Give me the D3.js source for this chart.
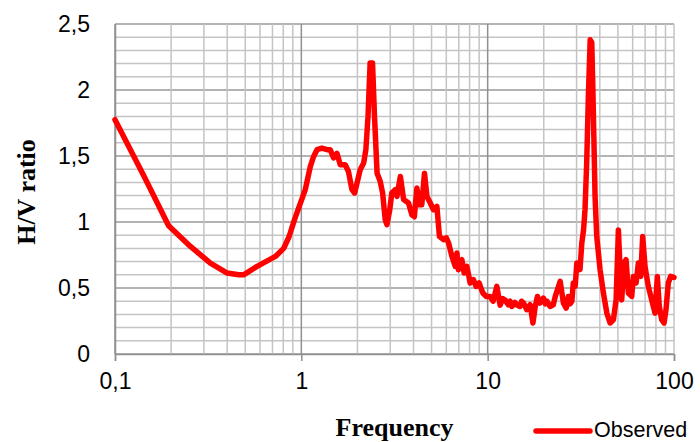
<!DOCTYPE html>
<html><head><meta charset="utf-8">
<script src="https://cdn.jsdelivr.net/npm/d3@7"></script>
<style>html,body{margin:0;padding:0;background:#fff;}svg{display:block;}</style>
</head><body>
<svg id="chart" width="700" height="442"></svg>
<script>
const xTicks = [0.1, 1, 10, 100];
const xTickLabels = ["0,1", "1", "10", "100"];
const yTicks = [0, 0.5, 1, 1.5, 2, 2.5];
const yTickLabels = ["0", "0,5", "1", "1,5", "2", "2,5"];
const seriesName = "Observed";
const freq = [0.1,0.1427,0.194,0.254,0.325,0.400,0.461,0.49,0.579,0.726,0.804,0.86,0.92,1.05,1.117,1.164,1.214,1.29,1.373,1.43,1.49,1.553,1.618,1.72,1.79,1.87,1.93,1.99,2.07,2.16,2.22,2.28,2.34,2.41,2.47,2.55,2.65,2.73,2.82,2.88,2.98,3.06,3.19,3.26,3.4,3.54,3.76,3.92,4.04,4.17,4.31,4.43,4.58,4.72,4.92,5.12,5.34,5.51,5.80,6.0,6.17,6.43,6.70,6.84,6.97,7.12,7.27,7.48,7.73,7.9,8.05,8.39,8.67,9.0,9.2,9.42,9.81,10.3,10.7,11.2,11.67,12.0,12.4,12.9,13.2,13.5,14.0,14.3,14.9,15.2,15.6,16.2,16.9,17.5,18.0,18.5,19.1,19.9,20.4,20.8,21.6,22.5,23.1,23.7,24.5,25.5,26.4,27.1,27.7,28.3,28.8,29.5,30.1,31.3,32.0,32.7,33.3,34.0,34.7,35.5,36.2,36.7,37.7,38.5,40.1,41.8,43.6,45.4,47.3,48.9,50.3,51.3,52.4,53.9,55.3,56.9,59.3,60.5,62.6,64.4,66.3,67.9,69.9,72.8,75.9,79.1,81.4,83.4,85.9,88.4,90.6,93.2,95.9,100];
const hv = [1.775,1.351,0.972,0.815,0.689,0.613,0.600,0.600,0.664,0.739,0.80,0.89,1.02,1.245,1.42,1.497,1.548,1.56,1.548,1.548,1.485,1.52,1.434,1.434,1.383,1.245,1.22,1.295,1.396,1.447,1.548,1.80,2.205,2.205,1.80,1.37,1.308,1.22,1.017,0.98,1.09,1.22,1.245,1.194,1.345,1.17,1.144,1.055,1.04,1.257,1.13,1.13,1.37,1.194,1.144,1.093,1.118,0.89,0.866,0.88,0.841,0.739,0.664,0.765,0.639,0.70,0.714,0.614,0.664,0.60,0.538,0.563,0.512,0.538,0.50,0.462,0.436,0.436,0.40,0.512,0.37,0.42,0.41,0.373,0.40,0.36,0.39,0.373,0.36,0.40,0.386,0.336,0.373,0.235,0.36,0.436,0.386,0.424,0.38,0.40,0.36,0.373,0.44,0.487,0.55,0.386,0.348,0.436,0.38,0.40,0.538,0.512,0.69,0.64,0.84,0.94,1.093,1.447,1.95,2.38,2.36,2.0,1.194,0.89,0.64,0.462,0.31,0.235,0.26,0.41,0.94,0.664,0.41,0.69,0.714,0.462,0.436,0.588,0.538,0.69,0.588,0.89,0.664,0.512,0.41,0.31,0.588,0.36,0.26,0.235,0.336,0.538,0.588,0.58];

const data = freq.map((f, i) => ({f, v: hv[i]}));
const svg = d3.select("#chart");
const L = 115, R = 674, T = 24, B = 354;
const x = d3.scaleLog().domain([0.1, 100]).range([L, R]);
const y = d3.scaleLinear().domain([0, 2.5]).range([B, T]);

const grid = svg.append("g");
d3.range(0, 26).forEach(k => {
  const val = k / 10;
  const major = k % 5 === 0;
  grid.append("line").attr("x1", L).attr("x2", R).attr("y1", y(val)).attr("y2", y(val))
    .attr("stroke", major ? "#9a9a9a" : "#c4c4c4").attr("stroke-width", 1.5);
});
const vMinor = [];
[0.1, 1, 10].forEach(d => { for (let m = 2; m <= 9; m++) vMinor.push(d * m); });
vMinor.forEach(v => grid.append("line").attr("x1", x(v)).attr("x2", x(v)).attr("y1", T).attr("y2", B)
  .attr("stroke", "#c4c4c4").attr("stroke-width", 1.5));
xTicks.forEach(v => grid.append("line").attr("x1", x(v)).attr("x2", x(v)).attr("y1", T).attr("y2", B)
  .attr("stroke", v === 100 ? "#c4c4c4" : "#909090").attr("stroke-width", 1.5));

const xAxis = d3.axisBottom(x).tickValues(xTicks).tickFormat((d, i) => xTickLabels[i]).tickSize(7).tickPadding(12);
const gx = svg.append("g").attr("transform", `translate(0,${B})`).call(xAxis);
gx.select(".domain").attr("stroke", "#909090").attr("stroke-width", 1.5);
gx.selectAll(".tick line").attr("stroke", "#909090").attr("stroke-width", 1.5);
gx.selectAll("text").attr("font-family", "Liberation Sans, Arial, sans-serif").attr("font-size", 23).attr("fill", "#000");

const yAxis = d3.axisLeft(y).tickValues(yTicks).tickFormat((d, i) => yTickLabels[i]).tickSize(0).tickPadding(25);
const gy = svg.append("g").attr("transform", `translate(${L},0)`).call(yAxis);
gy.select(".domain").attr("stroke", "#909090").attr("stroke-width", 1.5);
gy.selectAll("text").attr("font-family", "Liberation Sans, Arial, sans-serif").attr("font-size", 23).attr("fill", "#000");

const line = d3.line().x(d => x(d.f)).y(d => y(d.v));
svg.append("path").datum(data).attr("d", line).attr("fill", "none")
  .attr("stroke", "#ff0000").attr("stroke-width", 5.5).attr("stroke-linejoin", "round").attr("stroke-linecap", "round");

svg.append("text").attr("x", (L + R) / 2).attr("y", 436).attr("text-anchor", "middle")
  .attr("font-family", "Liberation Serif, Times New Roman, serif").attr("font-weight", "bold").attr("font-size", 26)
  .text("Frequency");
svg.append("text").attr("transform", `translate(35,${(T + B) / 2 + 3}) rotate(-90)`).attr("text-anchor", "middle")
  .attr("font-family", "Liberation Serif, Times New Roman, serif").attr("font-weight", "bold").attr("font-size", 26)
  .text("H/V ratio");

svg.append("line").attr("x1", 536).attr("x2", 590).attr("y1", 431).attr("y2", 431)
  .attr("stroke", "#ff0000").attr("stroke-width", 5.5).attr("stroke-linecap", "round");
svg.append("text").attr("x", 594).attr("y", 437).attr("font-family", "Liberation Sans, Arial, sans-serif")
  .attr("font-size", 21.5).text(seriesName);
</script>
</body></html>
